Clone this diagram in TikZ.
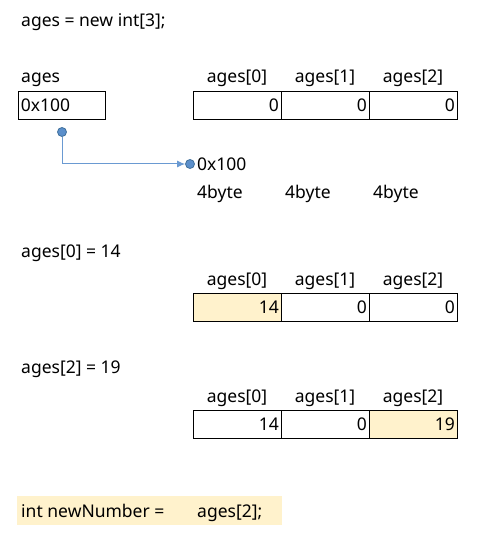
\documentclass[tikz,border=0pt]{standalone}
\usepackage{fontspec}
\setmainfont{Noto Sans}
\usetikzlibrary{arrows.meta}
\definecolor{hl}{HTML}{FFF2CC}
\definecolor{arr}{HTML}{6A9AD2}
\definecolor{dotb}{HTML}{41719C}
\definecolor{dotf}{HTML}{5B8FCB}
\begin{document}
\begin{tikzpicture}[x=1pt,y=-1pt,
  every node/.style={font=\fontsize{17.5}{20}\selectfont, inner sep=0pt},
  txt/.style={anchor=base west},
  lbl/.style={anchor=base},
  cell/.style={draw, line width=0.8pt, minimum width=88pt, minimum height=28pt, anchor=north west, align=right, text width=83pt},
  pdot/.style={circle, fill=dotf, draw=dotb, line width=0.8pt, minimum size=9pt}]
\useasboundingbox (0,0) rectangle (493,553);
\node[txt] (t1) at (21,27) {ages = new int[3];};
\node[txt] (lab) at (21,83) {ages};
\node[draw, line width=0.8pt, minimum width=87pt, minimum height=28pt, anchor=north west, text width=82pt, align=left] (p) at (18,91) {0x100};
% row 1
\foreach \i/\v/\f [count=\k from 0] in {0/0/white,1/0/white,2/0/white}{
  \node[cell, fill=\f] (a\i) at (193+88*\k,91) {\v};
  \node[lbl] (la\i) at (237+88*\k,83) {ages[\i]};
}
\node[pdot] (d1) at (62,132) {};
\node[pdot] (d2) at (190,164) {};
\draw[arr, line width=1pt, -{Latex[length=8pt,width=7pt]}] (d1) |- (d2);
\node[anchor=west] (addr) at (197,164) {0x100};
\foreach \x [count=\k] in {197,285,373}{
  \node[txt] (b\k) at (\x,199) {4byte};
}
% row 2
\node[txt] (t2) at (21,257) {ages[0] = 14};
\foreach \i/\v/\f [count=\k from 0] in {0/14/hl,1/0/white,2/0/white}{
  \node[cell, fill=\f] (c\i) at (193+88*\k,293) {\v};
  \node[lbl] (lc\i) at (237+88*\k,285) {ages[\i]};
}
% row 3
\node[txt] (t3) at (21,373) {ages[2] = 19};
\foreach \i/\v/\f [count=\k from 0] in {0/14/white,1/0/white,2/19/hl}{
  \node[cell, fill=\f] (e\i) at (193+88*\k,410) {\v};
  \node[lbl] (le\i) at (237+88*\k,402) {ages[\i]};
}
% bottom
\fill[hl] (17,496) rectangle (282,525);
\node[txt] (t4) at (21,517) {int newNumber =};
\node[txt] (t5) at (197,517) {ages[2];};
\end{tikzpicture}
\end{document}
